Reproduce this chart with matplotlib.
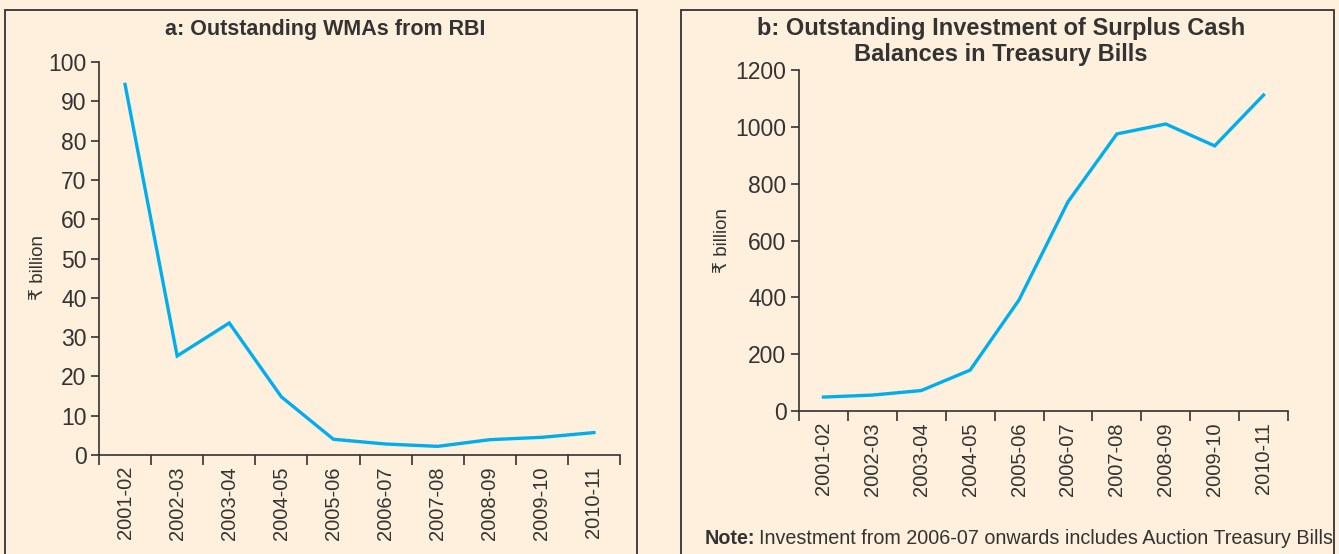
import numpy as np
import matplotlib
matplotlib.use("Agg")
import matplotlib.pyplot as plt
from matplotlib.patches import Rectangle

W, H = 1339, 554
DPI = 100

# Colors
BG = "#FEF0DC"
LINE = "#00AEEF"
DARK = "#333333"
FONT = ["Liberation Sans", "DejaVu Sans"]

# Data
years = ["2001-02", "2002-03", "2003-04", "2004-05", "2005-06",
         "2006-07", "2007-08", "2008-09", "2009-10", "2010-11"]
wma_outstanding = [94.3, 25.2, 33.6, 14.8, 4.0, 2.8, 2.2, 3.9, 4.5, 5.7]
surplus_tbills = [49, 56, 72, 144, 391, 736, 975, 1010, 933, 1112]

plt.rcParams["font.family"] = FONT
plt.rcParams["text.color"] = DARK

fig = plt.figure(figsize=(W / DPI, H / DPI), dpi=DPI, facecolor=BG)


def px_box(left, top, right, bottom):
    """Pixel box -> figure-fraction [l, b, w, h]."""
    return [left / W, 1 - bottom / H, (right - left) / W, (bottom - top) / H]


def frame(left, top, right):
    # panel border, bottom edge runs off the image
    l, b, w, h = px_box(left, top, right, H + 20)
    fig.patches.append(Rectangle((l, b), w, h, transform=fig.transFigure,
                                 fill=False, edgecolor=DARK, lw=1.3, clip_on=False))


def style(ax, values, ymax, ystep, label_x, label_y):
    ax.set_facecolor("none")
    x = np.arange(len(years))
    ax.plot(x, values, color=LINE, lw=2.4, solid_joinstyle="miter")
    ax.set_xlim(-0.5, len(years) - 0.5)
    ax.set_ylim(0, ymax)
    ax.set_yticks(np.arange(0, ymax + 1, ystep))
    ax.set_xticks(x)
    ax.set_xticklabels(years, rotation=90, fontsize=14.5)
    ax.set_xticks(np.arange(-0.5, len(years)), minor=True)
    ax.tick_params(axis="x", which="major", length=0, pad=8, labelcolor=DARK)
    ax.tick_params(axis="x", which="minor", length=7, width=1.2, color=DARK)
    ax.tick_params(axis="y", length=6, width=1.2, color=DARK, pad=3,
                   labelsize=16.5, labelcolor=DARK)
    for s in ["top", "right"]:
        ax.spines[s].set_visible(False)
    for s in ["left", "bottom"]:
        ax.spines[s].set_color(DARK)
        ax.spines[s].set_linewidth(1.2)
    ax.set_ylabel("\u20b9 billion", fontsize=13.5, color=DARK)
    ax.yaxis.set_label_coords(label_x, label_y)


frame(5, 10, 637)
frame(681, 10, 1334)

ax1 = fig.add_axes(px_box(99, 62, 620, 455))
style(ax1, wma_outstanding, 100, 10, -0.099, 0.476)

ax2 = fig.add_axes(px_box(799, 70, 1288, 411))
style(ax2, surplus_tbills, 1200, 200, -0.14, 0.50)

fig.text(325 / W, 1 - 30 / H, "a: Outstanding WMAs from RBI",
         ha="center", va="center", fontsize=15.5, fontweight="bold", color=DARK)
# two-line title for panel b, one text per line
fig.text(1001 / W, 1 - 28 / H, "b: Outstanding Investment of Surplus Cash",
         ha="center", va="center", fontsize=17, fontweight="bold", color=DARK)
fig.text(1001 / W, 1 - 54 / H, "Balances in Treasury Bills",
         ha="center", va="center", fontsize=17, fontweight="bold", color=DARK)

# note with bold lead-in
note_b = fig.text(705 / W, 1 - 538 / H, "Note:", ha="left", va="center",
                  fontsize=14.2, fontweight="bold", color=DARK)
fig.canvas.draw()
ext = note_b.get_window_extent()
fig.text((ext.x1 + 4) / W, 1 - 538 / H,
         "Investment from 2006-07 onwards includes Auction Treasury Bills",
         ha="left", va="center", fontsize=14.2, color=DARK)

fig.savefig("out.png", dpi=DPI, facecolor=BG)
